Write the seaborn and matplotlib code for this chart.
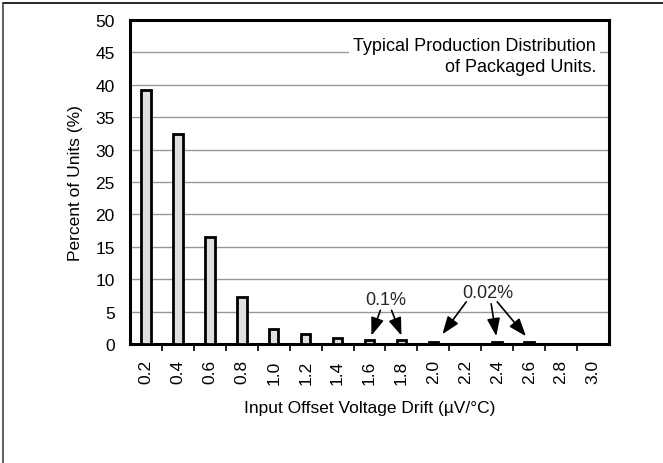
import matplotlib
matplotlib.use("Agg")
import matplotlib.pyplot as plt
import seaborn as sns
import pandas as pd
from matplotlib.lines import Line2D

drift_labels = ["0.2", "0.4", "0.6", "0.8", "1.0", "1.2", "1.4", "1.6",
                "1.8", "2.0", "2.2", "2.4", "2.6", "2.8", "3.0"]
percent_units = [39.2, 32.4, 16.5, 7.3, 2.3, 1.5, 0.9, 0.6,
                 0.6, 0.3, 0.0, 0.3, 0.3, 0.0, 0.0]
y_ticks = [0, 5, 10, 15, 20, 25, 30, 35, 40, 45, 50]

df = pd.DataFrame({"drift": drift_labels, "pct": percent_units})

sns.set_theme(style="white")
plt.rcParams["font.family"] = ["Liberation Sans", "DejaVu Sans"]

fig = plt.figure(figsize=(6.63, 4.64), dpi=100)
ax = fig.add_axes([130/663, 1-345/464, (609-130)/663, (345-21)/464])

sns.barplot(data=df, x="drift", y="pct", ax=ax, order=drift_labels,
            color="#e0e0e0", edgecolor="black", linewidth=2.0,
            width=0.3, saturation=1, zorder=3)

ax.set_ylim(0, 50)
ax.set_xlim(-0.5, len(drift_labels) - 0.5)
ax.set_yticks(y_ticks)
ax.set_yticklabels([str(v) for v in y_ticks])
ax.yaxis.grid(True, color="#999999", linewidth=1.0, zorder=0)
ax.xaxis.grid(False)

fs = 12.5
ax.set_xticks(range(len(drift_labels)))
ax.set_xticklabels(drift_labels, rotation=90)
ax.set_xticks([i + 0.5 for i in range(len(drift_labels) - 1)], minor=True)
ax.tick_params(axis="x", which="major", length=0, pad=11, labelsize=fs, colors="black")
ax.tick_params(axis="x", which="minor", length=5, width=1.2, direction="out",
               bottom=True, color="black")
ax.tick_params(axis="y", length=0, pad=11, labelsize=fs, colors="black")

for s in ax.spines.values():
    s.set_visible(True)
    s.set_color("black")
    s.set_linewidth(2.2)

ax.set_xlabel("Input Offset Voltage Drift (µV/°C)", fontsize=fs, labelpad=12, color="black")
ax.set_ylabel("Percent of Units (%)", fontsize=fs, labelpad=9, color="black")

ax.text(14.1, 44.4, "Typical Production Distribution\nof Packaged Units.",
        ha="right", va="center", multialignment="right", fontsize=13,
        linespacing=1.3, color="black",
        bbox=dict(facecolor="white", edgecolor="none", pad=3), zorder=4)

arrow = dict(arrowstyle="-|>,head_length=0.6,head_width=0.22", mutation_scale=18,
             lw=1.2, color="black", shrinkA=0, shrinkB=0)
ax.text(7.5, 6.9, "0.1%", ha="center", va="center", fontsize=13, zorder=5)
ax.annotate("", xy=(7.06, 1.3), xytext=(7.34, 5.2), arrowprops=arrow, zorder=5)
ax.annotate("", xy=(8.0, 1.3), xytext=(7.69, 5.2), arrowprops=arrow, zorder=5)

ax.text(10.7, 8.0, "0.02%", ha="center", va="center", fontsize=13, zorder=5)
ax.annotate("", xy=(9.28, 1.5), xytext=(10.03, 6.5), arrowprops=arrow, zorder=5)
ax.annotate("", xy=(10.97, 1.2), xytext=(10.81, 6.2), arrowprops=arrow, zorder=5)
ax.annotate("", xy=(11.9, 1.2), xytext=(11.0, 6.5), arrowprops=arrow, zorder=5)

# figure frame (top and left edges)
fig.add_artist(Line2D([3/663, 1], [1-4/464, 1-4/464], transform=fig.transFigure,
                      color="black", lw=1.2))
fig.add_artist(Line2D([3/663, 3/663], [0, 1-4/464], transform=fig.transFigure,
                      color="#444444", lw=1.2))

fig.savefig("out.png", dpi=100)
